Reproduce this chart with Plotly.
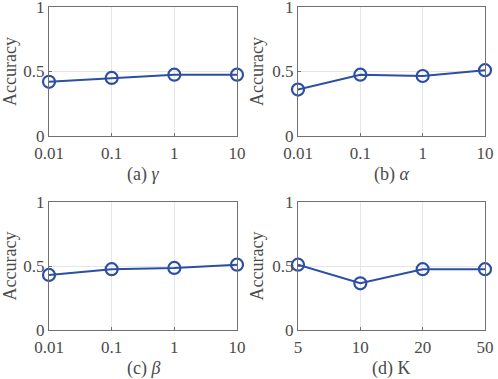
import plotly.graph_objects as go

# Data
x_param = ["0.01", "0.1", "1", "10"]
x_k = ["5", "10", "20", "50"]
acc_gamma = [0.42, 0.45, 0.475, 0.475]
acc_alpha = [0.36, 0.475, 0.465, 0.51]
acc_beta = [0.43, 0.475, 0.485, 0.51]
acc_k = [0.51, 0.365, 0.475, 0.475]
captions = ["(a) <i>γ</i>", "(b) <i>α</i>", "(c) <i>β</i>", "(d) K"]
y_ticks = [0, 0.5, 1]
y_ticklabels = ["0", "0.5", "1"]

W, H = 498, 379
LINE = "#2c4fa3"
TEXT = "#4a4a4a"
AXIS = "#707070"
GRID = "#e6e6e6"
FONT = "Liberation Serif, Times New Roman, DejaVu Serif, serif"

# panel pixel boxes: left, right, top, bottom
boxes = [(49, 237, 7, 136), (298, 485, 7, 136), (49, 237, 202, 330), (298, 485, 202, 330)]
series = [(x_param, acc_gamma), (x_param, acc_alpha), (x_param, acc_beta), (x_k, acc_k)]

fig = go.Figure()
annotations = []
for i, ((l, r, t, b), (xs, ys)) in enumerate(zip(boxes, series)):
    n = "" if i == 0 else str(i + 1)
    fig.add_trace(go.Scatter(
        x=xs, y=ys, mode="lines+markers",
        line=dict(color=LINE, width=2),
        marker=dict(symbol="circle-open", size=12, color=LINE, line=dict(width=2.2, color=LINE)),
        cliponaxis=False, showlegend=False, hoverinfo="skip",
        xaxis="x" + n, yaxis="y" + n,
    ))
    fig.update_layout(**{
        "xaxis" + n: dict(
            domain=[l / W, r / W], anchor="y" + n, type="category", automargin=False,
            range=[0, len(xs) - 1], showgrid=True, gridcolor=GRID, gridwidth=1,
            showline=True, linecolor=AXIS, linewidth=1, mirror=True,
            ticks="inside", ticklen=3, tickcolor=AXIS, ticklabelstandoff=2,
            ticklabeloverflow="allow",
            tickfont=dict(family=FONT, size=17, color=TEXT), zeroline=False,
        ),
        "yaxis" + n: dict(
            domain=[1 - b / H, 1 - t / H], anchor="x" + n, automargin=False,
            range=[0, 1], tickvals=y_ticks, ticktext=y_ticklabels,
            showgrid=True, gridcolor=GRID, gridwidth=1,
            showline=True, linecolor=AXIS, linewidth=1, mirror=True,
            ticks="inside", ticklen=3, tickcolor=AXIS, zeroline=False,
            ticklabeloverflow="allow",
            tickfont=dict(family=FONT, size=17, color=TEXT),
            title=dict(text="Accuracy", font=dict(family=FONT, size=18, color=TEXT), standoff=4),
        ),
    })
    annotations.append(dict(
        text=captions[i], xref="paper", yref="paper",
        x=(l + r) / 2 / W, y=1 - (b + 38) / H, xanchor="center", yanchor="middle",
        showarrow=False, font=dict(family=FONT, size=18, color=TEXT),
    ))

fig.update_layout(
    width=W, height=H, margin=dict(l=0, r=0, t=0, b=0, autoexpand=False),
    paper_bgcolor="white", plot_bgcolor="white",
    annotations=annotations,
)
fig.write_html(
    "out.html",
    config={"displayModeBar": False, "staticPlot": True},
    post_script="document.body.style.margin='0px';document.body.style.overflow='hidden';",
)
